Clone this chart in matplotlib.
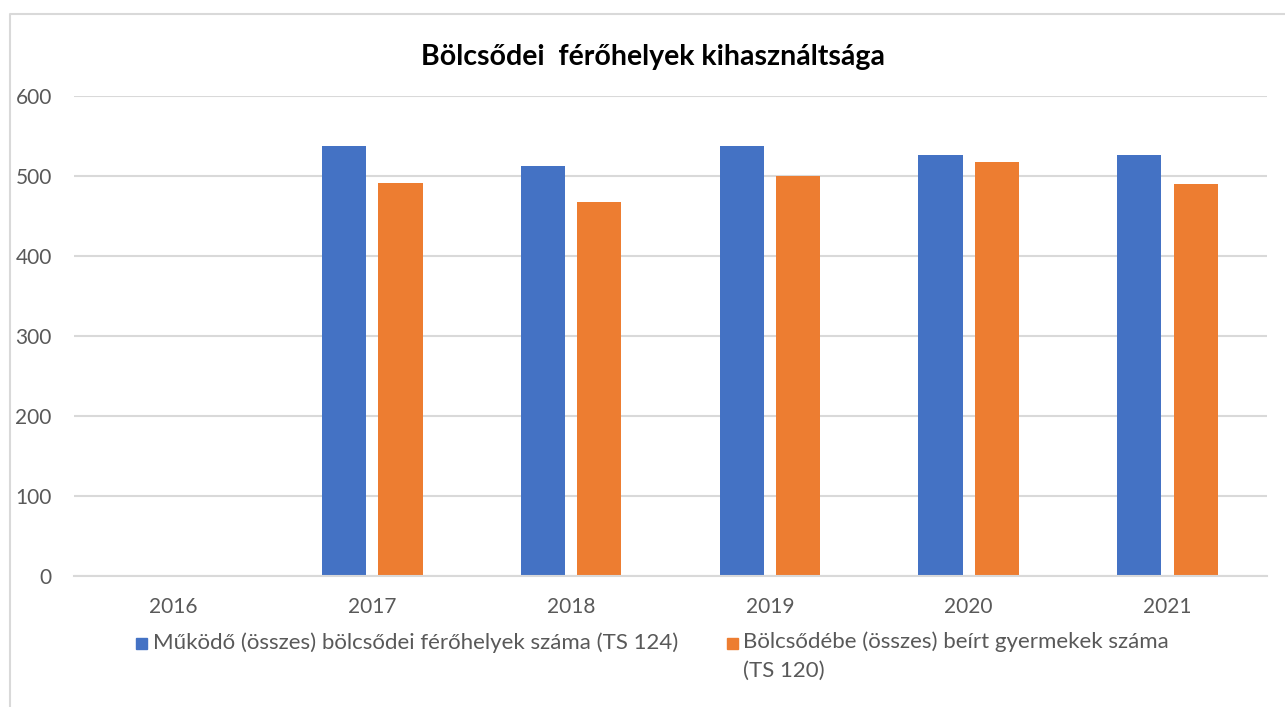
import numpy as np
import matplotlib.pyplot as plt
from matplotlib.lines import Line2D
from matplotlib.patches import Rectangle

plt.rcParams['font.family'] = ['Lato', 'DejaVu Sans']

# adatok
evek = ['2016', '2017', '2018', '2019', '2020', '2021']
ferohelyek = [np.nan, 537, 512, 537, 526, 526]
beirt = [np.nan, 491, 467, 500, 517, 490]
cim = 'Bölcsődei  férőhelyek kihasználtsága'
cimke1 = 'Működő (összes) bölcsődei férőhelyek száma (TS 124)'
cimke2 = 'Bölcsődébe (összes) beírt gyermekek száma\n(TS 120)'

kek = '#4472C4'
narancs = '#ED7D31'
szurke = '#595959'
racs = '#D9D9D9'

W, H = 1285, 707
fig = plt.figure(figsize=(W / 100, H / 100), dpi=100)
ax = fig.add_axes([74 / W, 1 - 576 / H, (1267 - 74) / W, (576 - 96) / H])

x = np.arange(len(evek))
ax.bar(x - 0.142, ferohelyek, width=0.222, color=kek)
ax.bar(x + 0.142, beirt, width=0.222, color=narancs)

ax.set_xlim(-0.5, len(evek) - 0.5)
ax.set_ylim(0, 600)
ax.set_yticks(range(0, 601, 100))
ax.set_xticks(x)
ax.set_xticklabels(evek)
ax.grid(axis='y', color=racs, linewidth=1.5)
ax.set_axisbelow(True)
for s in ['top', 'right', 'left']:
    ax.spines[s].set_visible(False)
ax.spines['bottom'].set_color(racs)
ax.spines['bottom'].set_linewidth(1.5)
ax.tick_params(axis='y', length=0, pad=16, labelsize=15, labelcolor=szurke)
ax.tick_params(axis='x', length=0, pad=15, labelsize=15, labelcolor=szurke)

fig.text(653 / W, 1 - 57 / H, cim, ha='center', va='center',
         fontsize=20.5, fontweight='bold', color='black')

# jelmagyarázat
fig.patches.append(Rectangle((136 / W, 1 - 649 / H), 11 / W, 11 / H,
                             transform=fig.transFigure, color=kek))
fig.text(153 / W, 1 - 643 / H, cimke1, ha='left', va='center',
         fontsize=16, color=szurke)
fig.patches.append(Rectangle((727 / W, 1 - 649 / H), 11 / W, 11 / H,
                             transform=fig.transFigure, color=narancs))
fig.text(743 / W, 1 - 631 / H, cimke2, ha='left', va='top',
         fontsize=16, color=szurke, linespacing=1.55)

# keret
fig.lines.append(Line2D([10 / W, 10 / W, 1], [0, 1 - 14 / H, 1 - 14 / H],
                        transform=fig.transFigure, color=racs, linewidth=1.5))

fig.savefig('out.png', dpi=100)
